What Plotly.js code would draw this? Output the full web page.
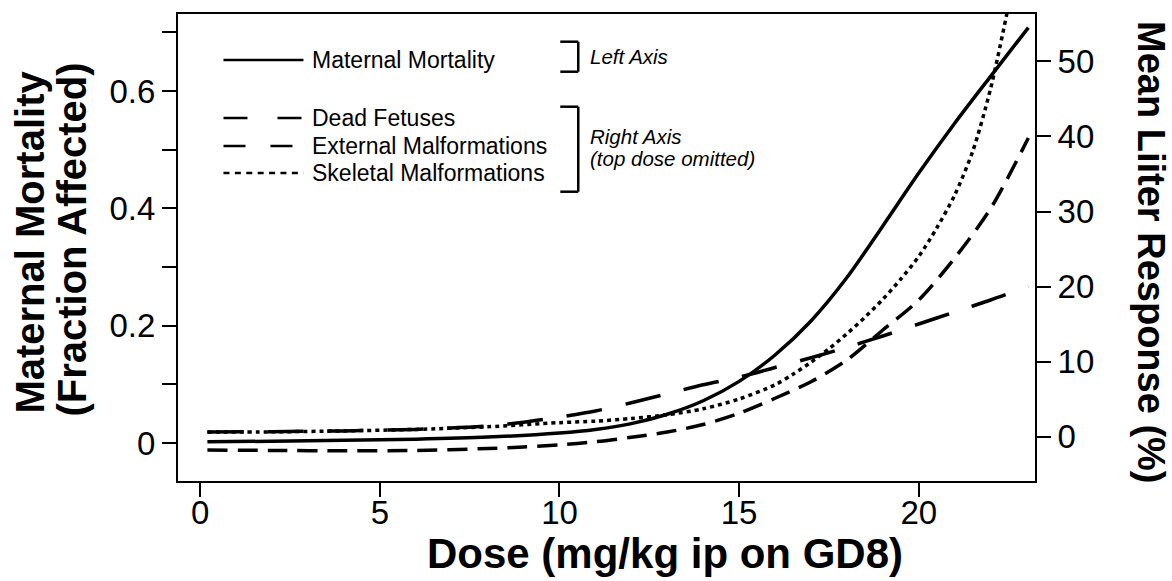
<!DOCTYPE html>
<html>
<head>
<meta charset="utf-8">
<script src="https://cdn.plot.ly/plotly-3.0.1.min.js"></script>
<style>html,body{margin:0;padding:0;background:#fff;}#chart{width:1172px;height:581px;}</style>
</head>
<body>
<div id="chart"></div>
<script>
// Dose values (mg/kg) for each curve
const doseMaternal = [0.2, 2, 4, 6, 8, 10, 11, 12, 13, 14, 15, 16, 17, 18, 19, 20, 21, 22, 23.05];
const maternalMortality = [0.002, 0.003, 0.0045, 0.0065, 0.010, 0.017, 0.023, 0.033, 0.049, 0.072, 0.105, 0.150, 0.208, 0.282, 0.370, 0.460, 0.545, 0.625, 0.708];

const doseDead = [0.2, 2, 4, 6, 8, 9, 10, 11, 12, 13, 14, 15, 16, 17, 18, 19, 20, 21, 22, 23.05];
const deadFetuses = [0.6, 0.65, 0.75, 0.95, 1.4, 1.9, 2.6, 3.4, 4.5, 5.7, 6.9, 7.9, 9.2, 10.5, 11.9, 13.4, 15.0, 16.6, 18.2, 20.0];

const doseExternal = [0.2, 2, 4, 6, 8, 9, 10, 11, 12, 13, 14, 15, 16, 17, 18, 19, 20, 21, 22, 23.05];
const externalMalf = [-1.8, -1.85, -1.9, -1.85, -1.6, -1.4, -1.1, -0.7, -0.1, 0.6, 1.6, 3.1, 5.1, 7.3, 10.2, 14.2, 18.2, 23.8, 30.4, 39.8];

const doseSkeletal = [0.2, 2, 4, 6, 8, 10, 11, 12, 13, 14, 15, 16, 16.5, 17, 17.5, 18, 18.5, 19, 19.5, 20, 20.5, 21, 21.5, 22, 22.5];
const skeletalMalf = [0.6, 0.62, 0.75, 0.95, 1.3, 1.85, 2.05, 2.4, 2.9, 3.7, 5.0, 6.9, 8.3, 9.9, 11.7, 13.7, 15.9, 18.3, 21.0, 24.0, 27.8, 32.2, 38.0, 46.4, 57.5];

// Axis ticks
const xTicks = [0, 5, 10, 15, 20];
const leftTickVals = [0, 0.1, 0.2, 0.3, 0.4, 0.5, 0.6, 0.7];
const leftTickText = ['0', '', '0.2', '', '0.4', '', '0.6', ''];
const rightTicks = [0, 10, 20, 30, 40, 50];

// Texts
const seriesNames = ['Maternal Mortality', 'Dead Fetuses', 'External Malformations', 'Skeletal Malformations'];
const groupNotes = ['Left Axis', 'Right Axis', '(top dose omitted)'];
const xTitle = 'Dose (mg/kg ip on GD8)';
const leftTitle = ['Maternal Mortality', '(Fraction Affected)'];
const rightTitle = 'Mean Liiter Response (%)';

const FONT = 'Liberation Sans, Arial, Helvetica, sans-serif';
const lineW = 3.5;

const traces = [
  {x: doseMaternal, y: maternalMortality, name: seriesNames[0], type: 'scatter', mode: 'lines',
   line: {color: '#000', width: lineW, dash: 'solid', shape: 'spline', smoothing: 0.8}, yaxis: 'y'},
  {x: doseDead, y: deadFetuses, name: seriesNames[1], type: 'scatter', mode: 'lines',
   line: {color: '#000', width: lineW, dash: '36px,24px', shape: 'spline', smoothing: 0.8}, yaxis: 'y2'},
  {x: doseExternal, y: externalMalf, name: seriesNames[2], type: 'scatter', mode: 'lines',
   line: {color: '#000', width: lineW, dash: '20px,10px', shape: 'spline', smoothing: 0.8}, yaxis: 'y2'},
  {x: doseSkeletal, y: skeletalMalf, name: seriesNames[3], type: 'scatter', mode: 'lines',
   line: {color: '#000', width: lineW, dash: '4px,4px', shape: 'spline', smoothing: 0.8}, yaxis: 'y2'}
];

// pixel -> paper helpers (plot area: x 177.5..1035, y 14..481)
const PX0 = 177.5, PW = 857.5, PY1 = 481, PH = 467;
const px = v => (v - PX0) / PW;
const py = v => (PY1 - v) / PH;

const rowY = [60, 118, 146, 173];
const legendDash = ['solid', '24px,30px', '22px,25px', '6px,5.4px'];

const shapes = [];
const annotations = [];
for (let i = 0; i < 4; i++) {
  shapes.push({type: 'line', xref: 'paper', yref: 'paper', x0: px(223), x1: px(303), y0: py(rowY[i]), y1: py(rowY[i]),
    line: {color: '#000', width: 2.5, dash: legendDash[i]}});
  annotations.push({xref: 'paper', yref: 'paper', x: px(310), y: py(rowY[i]), xanchor: 'left', yanchor: 'middle',
    text: seriesNames[i], showarrow: false, font: {family: FONT, size: 23, color: '#000'}});
}
function bracket(yTop, yBot) {
  const o = {type: 'line', xref: 'paper', yref: 'paper', line: {color: '#000', width: 2.5}};
  shapes.push(Object.assign({}, o, {x0: px(578), x1: px(578), y0: py(yTop), y1: py(yBot)}));
  shapes.push(Object.assign({}, o, {x0: px(560), x1: px(578), y0: py(yTop), y1: py(yTop)}));
  shapes.push(Object.assign({}, o, {x0: px(560), x1: px(578), y0: py(yBot), y1: py(yBot)}));
}
bracket(41.7, 71.7);
bracket(106.7, 191.7);
const noteY = [56.7, 136.5, 158.5];
for (let i = 0; i < 3; i++) {
  annotations.push({xref: 'paper', yref: 'paper', x: px(588), y: py(noteY[i]), xanchor: 'left', yanchor: 'middle',
    text: '<i>' + groupNotes[i] + '</i>', showarrow: false, font: {family: FONT, size: 20.5, color: '#000'}});
}
// axis titles
annotations.push({xref: 'paper', yref: 'paper', x: px(665), y: py(553), xanchor: 'center', yanchor: 'middle',
  text: '<b>' + xTitle + '</b>', showarrow: false, font: {family: FONT, size: 42, color: '#000'}});
annotations.push({xref: 'paper', yref: 'paper', x: px(29), y: py(242), xanchor: 'center', yanchor: 'middle', textangle: -90,
  text: '<b>' + leftTitle[0] + '</b>', showarrow: false, font: {family: FONT, size: 40, color: '#000'}});
annotations.push({xref: 'paper', yref: 'paper', x: px(71), y: py(240), xanchor: 'center', yanchor: 'middle', textangle: -90,
  text: '<b>' + leftTitle[1] + '</b>', showarrow: false, font: {family: FONT, size: 40, color: '#000'}});
annotations.push({xref: 'paper', yref: 'paper', x: px(1151), y: py(252), xanchor: 'center', yanchor: 'middle', textangle: 90,
  text: '<b>' + rightTitle + '</b>', showarrow: false, font: {family: FONT, size: 38, color: '#000'}});

const layout = {
  width: 1172, height: 581,
  margin: {l: 177.5, r: 137, t: 14, b: 100},
  paper_bgcolor: '#fff', plot_bgcolor: '#fff',
  showlegend: false,
  font: {family: FONT, color: '#000'},
  xaxis: {
    range: [-0.618, 23.235], tickvals: xTicks, ticks: 'outside', ticklen: 14, tickwidth: 2, tickcolor: '#000',
    ticklabelstandoff: -13,
    showgrid: false, zeroline: false, showline: true, linecolor: '#000', linewidth: 2, mirror: true,
    tickfont: {family: FONT, size: 33, color: '#000'}
  },
  yaxis: {
    range: [-0.0648, 0.7312], tickvals: leftTickVals, ticktext: leftTickText, ticks: 'outside', ticklen: 14, tickwidth: 2, tickcolor: '#000',
    showgrid: false, zeroline: false, showline: true, linecolor: '#000', linewidth: 2, mirror: true,
    tickfont: {family: FONT, size: 33, color: '#000'}
  },
  yaxis2: {
    overlaying: 'y', side: 'right', anchor: 'x',
    range: [-5.93, 56.33], tickvals: rightTicks, ticks: 'outside', ticklen: 14, tickwidth: 2, tickcolor: '#000',
    showgrid: false, zeroline: false, showline: true, linecolor: '#000', linewidth: 2,
    tickfont: {family: FONT, size: 33, color: '#000'}
  },
  shapes: shapes,
  annotations: annotations
};

Plotly.newPlot('chart', traces, layout, {displayModeBar: false, staticPlot: true});
</script>
</body>
</html>
